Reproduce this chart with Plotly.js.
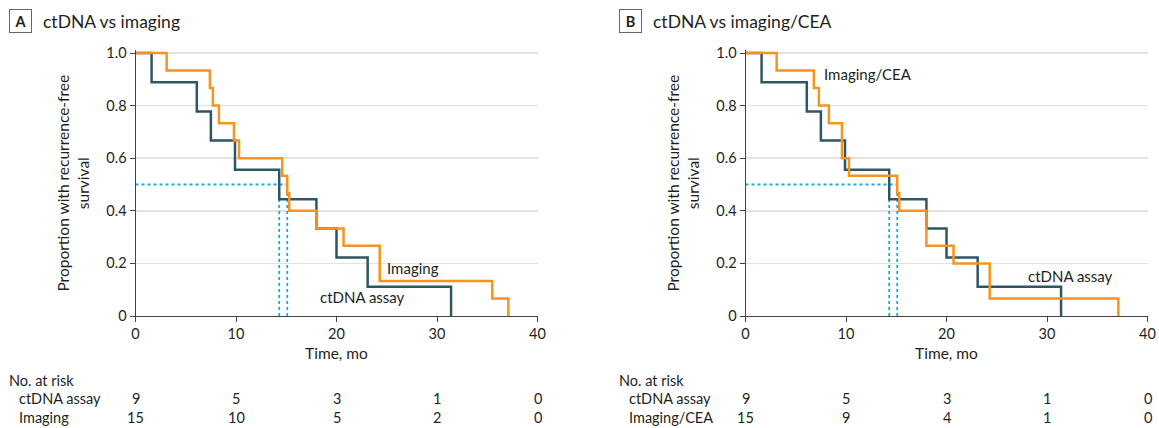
<!DOCTYPE html>
<html>
<head>
<meta charset="utf-8">
<script src="https://cdn.plot.ly/plotly-3.0.1.min.js"></script>
<style>
  html, body { margin: 0; padding: 0; background: #fff; }
  #chart { width: 1159px; height: 428px; }
</style>
</head>
<body>
<div id="chart"></div>
<script>
// ---- Data ----
const ctdnaTimes = [0, 1.6, 6.1, 7.5, 9.9, 14.3, 18.0, 20.0, 23.1, 31.4];
const ctdnaSurv  = [1, 0.889, 0.778, 0.667, 0.556, 0.444, 0.333, 0.222, 0.111, 0];

const imagingTimes = [0, 3.1, 7.4, 7.7, 8.3, 9.8, 10.3, 14.6, 15.1, 15.3, 18.0, 20.7, 24.3, 35.5, 37.1];
const imagingSurv  = [1, 0.933, 0.867, 0.8, 0.733, 0.667, 0.6, 0.533, 0.467, 0.4, 0.333, 0.267, 0.133, 0.067, 0];

const imagingCeaTimes = [0, 3.1, 6.8, 7.3, 8.3, 9.6, 10.3, 15.1, 15.3, 18.0, 20.7, 24.3, 37.1];
const imagingCeaSurv  = [1, 0.933, 0.867, 0.8, 0.733, 0.6, 0.533, 0.467, 0.4, 0.267, 0.2, 0.067, 0];

const riskTicks = [0, 10, 20, 30, 40];
const riskCtdnaA = [9, 5, 3, 1, 0];
const riskImagingA = [15, 10, 5, 2, 0];
const riskCtdnaB = [9, 5, 3, 1, 0];
const riskImagingCeaB = [15, 9, 4, 1, 0];

const panelTitles = ["ctDNA vs imaging", "ctDNA vs imaging/CEA"];
const panelLetters = ["A", "B"];
const rowLabelsA = ["ctDNA assay", "Imaging"];
const rowLabelsB = ["ctDNA assay", "Imaging/CEA"];

// ---- Styling ----
const W = 1159, H = 428;
const FONT = "Lato, 'Open Sans', sans-serif";
const TXT = "#231f20";
const TEAL = "#2f5664";
const ORANGE = "#f7941d";
const BLUE = "#12abe8";

function px2x(p) { return p / W; }
function py2y(p) { return 1 - p / H; }

function medianTime(times, surv) {
  for (let i = 0; i < surv.length; i++) if (surv[i] <= 0.5) return times[i];
  return null;
}

function kmTrace(times, surv, color, xa, ya) {
  return { x: times, y: surv, xaxis: xa, yaxis: ya, type: "scatter", mode: "lines",
    line: { shape: "hv", color: color, width: 2.5 }, hoverinfo: "skip", showlegend: false };
}

function medianTraces(t1, t2, xa, ya) {
  const mx = Math.max(t1, t2);
  const st = { color: BLUE, width: 1.8, dash: "dot" };
  return [
    { x: [0, mx], y: [0.5, 0.5], xaxis: xa, yaxis: ya, mode: "lines", line: st, hoverinfo: "skip", showlegend: false },
    { x: [t1, t1], y: [0, 0.5], xaxis: xa, yaxis: ya, mode: "lines", line: st, hoverinfo: "skip", showlegend: false },
    { x: [t2, t2], y: [0, 0.5], xaxis: xa, yaxis: ya, mode: "lines", line: st, hoverinfo: "skip", showlegend: false }
  ];
}

const mA1 = medianTime(ctdnaTimes, ctdnaSurv), mA2 = medianTime(imagingTimes, imagingSurv);
const mB1 = medianTime(ctdnaTimes, ctdnaSurv), mB2 = medianTime(imagingCeaTimes, imagingCeaSurv);

const traces = [].concat(
  medianTraces(mA1, mA2, "x", "y"),
  [kmTrace(ctdnaTimes, ctdnaSurv, TEAL, "x", "y"), kmTrace(imagingTimes, imagingSurv, ORANGE, "x", "y")],
  medianTraces(mB1, mB2, "x2", "y2"),
  [kmTrace(ctdnaTimes, ctdnaSurv, TEAL, "x2", "y2"), kmTrace(imagingCeaTimes, imagingCeaSurv, ORANGE, "x2", "y2")]
);

const yTop = 1.01;
const plotTopPx = 316 - 263 * yTop;
const yDom = [py2y(316), py2y(plotTopPx)];

function xAxis(dom, anchor) {
  return { domain: dom, anchor: anchor, range: [0, 40], tickvals: riskTicks, ticks: "outside", ticklen: 5,
    tickcolor: "#444", showline: true, linecolor: "#444", linewidth: 1, showgrid: false, zeroline: false,
    tickfont: { family: FONT, size: 14.5, color: TXT },
    title: { text: "Time, mo", font: { family: FONT, size: 15.5, color: TXT }, standoff: 6 }, fixedrange: true };
}
function yAxis(dom, anchor) {
  return { domain: dom, anchor: anchor, range: [0, yTop], tickvals: [0, 0.2, 0.4, 0.6, 0.8, 1.0],
    ticktext: ["0", "0.2", "0.4", "0.6", "0.8", "1.0"], ticks: "outside", ticklen: 5, tickcolor: "#444",
    showline: true, linecolor: "#444", linewidth: 1, showgrid: true, gridcolor: "#e2e2e2", gridwidth: 1.5,
    zeroline: false, tickfont: { family: FONT, size: 14.5, color: TXT },
    title: { text: "Proportion with recurrence-free<br>survival", font: { family: FONT, size: 15.5, color: TXT }, standoff: 12 },
    fixedrange: true };
}

const xDomA = [px2x(135.5), px2x(537.5)];
const xDomB = [px2x(745.5), px2x(1147.5)];

const annotations = [];
function txt(text, x, y, xref, yref, opts) {
  annotations.push(Object.assign({ text: text, x: x, y: y, xref: xref, yref: yref, showarrow: false,
    font: { family: FONT, size: 14.5, color: TXT }, xanchor: "center", yanchor: "middle" }, opts || {}));
}

// panel headers
[[20, 41, 0], [630, 651, 1]].forEach(([bx, tx, i]) => {
  txt("<b>" + panelLetters[i] + "</b>", px2x(bx), py2y(21.5), "paper", "paper",
    { bordercolor: "#666", borderwidth: 1, borderpad: 2, width: 17, height: 18, font: { family: FONT, size: 14.5, color: TXT } });
  txt(panelTitles[i], px2x(tx), py2y(21), "paper", "paper", { xanchor: "left", font: { family: FONT, size: 17.5, color: TXT } });
});

// curve labels
txt("Imaging", 27.6, 0.183, "x", "y", { font: { family: FONT, size: 15, color: TXT } });
txt("ctDNA assay", 22.6, 0.073, "x", "y", { font: { family: FONT, size: 15, color: TXT } });
txt("Imaging/CEA", 12.2, 0.919, "x2", "y2", { font: { family: FONT, size: 15, color: TXT } });
txt("ctDNA assay", 32.3, 0.152, "x2", "y2", { font: { family: FONT, size: 15, color: TXT } });

// at-risk tables
function riskTable(xref, leftPx, labels, r1, r2) {
  txt("No. at risk", px2x(leftPx), py2y(380), "paper", "paper", { xanchor: "left" });
  txt(labels[0], px2x(leftPx + 10), py2y(398.5), "paper", "paper", { xanchor: "left" });
  txt(labels[1], px2x(leftPx + 10), py2y(417), "paper", "paper", { xanchor: "left" });
  riskTicks.forEach((t, i) => {
    txt(String(r1[i]), t, py2y(398.5), xref, "paper");
    txt(String(r2[i]), t, py2y(417), xref, "paper");
  });
}
riskTable("x", 7, rowLabelsA, riskCtdnaA, riskImagingA);
riskTable("x2", 617, rowLabelsB, riskCtdnaB, riskImagingCeaB);

const layout = {
  width: W, height: H, margin: { l: 0, r: 0, t: 0, b: 0 }, paper_bgcolor: "#fff", plot_bgcolor: "#fff",
  showlegend: false, font: { family: FONT, color: TXT },
  xaxis: xAxis(xDomA, "y"), yaxis: yAxis(yDom, "x"),
  xaxis2: xAxis(xDomB, "y2"), yaxis2: yAxis(yDom, "x2"),
  annotations: annotations
};

Plotly.newPlot("chart", traces, layout, { staticPlot: true, displayModeBar: false });
</script>
</body>
</html>
